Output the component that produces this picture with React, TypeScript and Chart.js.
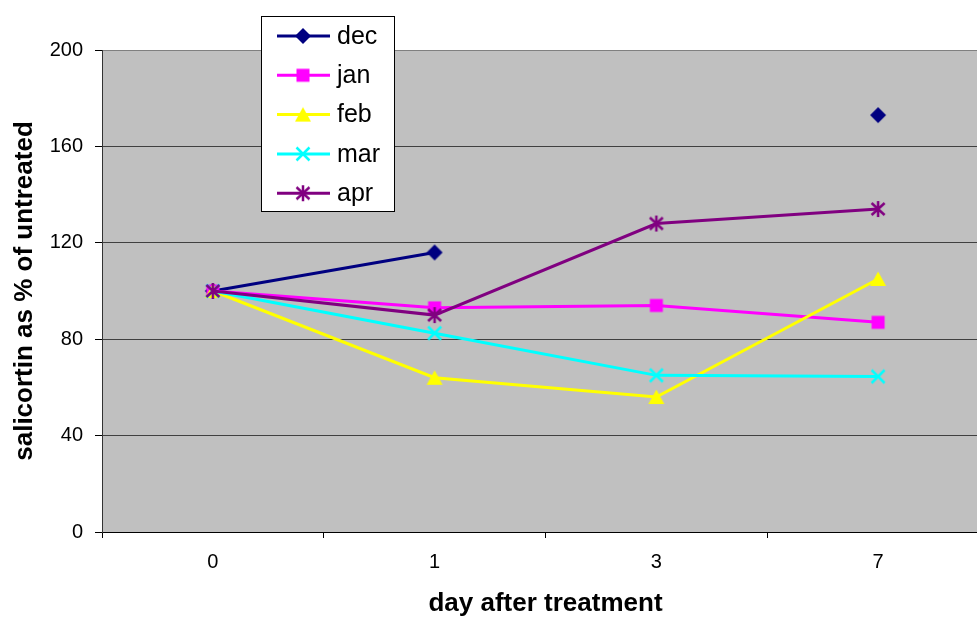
import React, { useEffect, useRef } from 'react';
import { Chart, registerables } from 'chart.js';

Chart.register(...registerables);

const categories = ['0', '1', '3', '7'];
const decValues = [100, 116, null, 173];
const janValues = [100, 93, 94, 87];
const febValues = [100, 64, 56, 105];
const marValues = [100, 82.5, 65, 64.5];
const aprValues = [100, 90, 128, 134];
const seriesNames = ['dec', 'jan', 'feb', 'mar', 'apr'];
const seriesColors = ['#000080', '#FF00FF', '#FFFF00', '#00FFFF', '#800080'];
const yMin = 0;
const yMax = 200;
const yStep = 40;
const xTitle = 'day after treatment';
const yTitle = 'salicortin as % of untreated';

const FONT = 'Arial, "Liberation Sans", sans-serif';

function makeMarker(kind: string, color: string): HTMLCanvasElement {
  const c = document.createElement('canvas');
  const s = 18;
  c.width = s;
  c.height = s;
  const ctx = c.getContext('2d')!;
  const m = s / 2;
  ctx.fillStyle = color;
  ctx.strokeStyle = color;
  if (kind === 'diamond') {
    ctx.beginPath();
    ctx.moveTo(m, m - 8);
    ctx.lineTo(m + 8, m);
    ctx.lineTo(m, m + 8);
    ctx.lineTo(m - 8, m);
    ctx.closePath();
    ctx.fill();
  } else if (kind === 'square') {
    ctx.fillRect(m - 6.5, m - 6.5, 13, 13);
  } else if (kind === 'triangle') {
    ctx.beginPath();
    ctx.moveTo(m, m - 7.5);
    ctx.lineTo(m + 8, m + 7);
    ctx.lineTo(m - 8, m + 7);
    ctx.closePath();
    ctx.fill();
  } else if (kind === 'x') {
    ctx.lineWidth = 2.5;
    ctx.beginPath();
    ctx.moveTo(m - 6.5, m - 6.5);
    ctx.lineTo(m + 6.5, m + 6.5);
    ctx.moveTo(m + 6.5, m - 6.5);
    ctx.lineTo(m - 6.5, m + 6.5);
    ctx.stroke();
  } else if (kind === 'star') {
    ctx.lineWidth = 2.5;
    ctx.beginPath();
    ctx.moveTo(m - 6.5, m - 6);
    ctx.lineTo(m + 6.5, m + 6);
    ctx.moveTo(m + 6.5, m - 6);
    ctx.lineTo(m - 6.5, m + 6);
    ctx.moveTo(m, m - 8);
    ctx.lineTo(m, m + 8);
    ctx.stroke();
  }
  return c;
}

export default function App() {
  const ref = useRef<HTMLCanvasElement | null>(null);

  useEffect(() => {
    const canvas = ref.current;
    if (!canvas) return;
    const kinds = ['diamond', 'square', 'triangle', 'x', 'star'];
    const markers = kinds.map((k, i) => makeMarker(k, seriesColors[i]));
    const allValues = [decValues, janValues, febValues, marValues, aprValues];

    const datasets = allValues.map((vals, i) => ({
      label: seriesNames[i],
      data: vals,
      borderColor: seriesColors[i],
      backgroundColor: seriesColors[i],
      borderWidth: 3,
      pointStyle: markers[i],
      pointRadius: 8,
      pointHoverRadius: 8,
      spanGaps: false,
      tension: 0,
      order: 4 - i,
      clip: false as any,
    }));

    const plotBg = {
      id: 'plotBg',
      beforeDraw(chart: any) {
        const { ctx, chartArea } = chart;
        ctx.save();
        ctx.fillStyle = '#C0C0C0';
        ctx.fillRect(chartArea.left, chartArea.top, chartArea.right - chartArea.left, chartArea.bottom - chartArea.top);
        ctx.restore();
      },
    };

    const customLegend = {
      id: 'customLegend',
      afterDraw(chart: any) {
        const { ctx } = chart;
        ctx.save();
        const bx = 261.5, by = 16.5, bw = 133, bh = 195;
        ctx.fillStyle = '#FFFFFF';
        ctx.fillRect(bx, by, bw, bh);
        ctx.strokeStyle = '#000000';
        ctx.lineWidth = 1;
        ctx.strokeRect(bx, by, bw, bh);
        seriesNames.forEach((name, i) => {
          const y = 36 + i * 39.3;
          ctx.strokeStyle = seriesColors[i];
          ctx.lineWidth = 3;
          ctx.beginPath();
          ctx.moveTo(277, y);
          ctx.lineTo(330, y);
          ctx.stroke();
          const mk = markers[i];
          ctx.drawImage(mk, 303 - mk.width / 2, y - mk.height / 2);
          ctx.fillStyle = '#000000';
          ctx.font = `25px ${FONT}`;
          ctx.textBaseline = 'middle';
          ctx.textAlign = 'left';
          ctx.fillText(name, 337, y + 1);
        });
        ctx.restore();
      },
    };

    const chart = new Chart(canvas, {
      type: 'line',
      data: { labels: categories, datasets: datasets as any },
      options: {
        animation: false,
        responsive: false,
        devicePixelRatio: 1,
        layout: { padding: { top: 50, right: 11, left: 0, bottom: 0 } },
        plugins: {
          legend: { display: false },
          tooltip: { enabled: false },
        },
        scales: {
          x: {
            type: 'category',
            offset: true,
            afterFit: (s: any) => { s.height = 86; },
            grid: {
              offset: true,
              drawOnChartArea: false,
              drawTicks: true,
              tickLength: 6,
              color: '#000000',
              tickColor: '#000000',
            },
            border: { display: true, color: '#000000', width: 1 },
            ticks: {
              color: '#000000',
              font: { family: FONT, size: 20 },
              padding: 12,
              maxRotation: 0,
            },
            title: {
              display: true,
              text: xTitle,
              color: '#000000',
              font: { family: FONT, size: 26, weight: 'bold' },
              padding: { top: 0, bottom: -1 },
            },
          },
          y: {
            min: yMin,
            max: yMax,
            afterFit: (s: any) => { s.width = 102; },
            grid: {
              drawTicks: true,
              tickLength: 7,
              color: (c: any) => (c.tick && (c.tick.value === yMax || c.tick.value === yMin) ? '#808080' : '#404040'),
              tickColor: '#000000',
              lineWidth: 1,
            },
            border: { display: true, color: '#333333', width: 1 },
            ticks: {
              stepSize: yStep,
              color: '#000000',
              font: { family: FONT, size: 20 },
              padding: 12,
            },
            title: {
              display: true,
              text: yTitle,
              color: '#000000',
              font: { family: FONT, size: 26, weight: 'bold' },
              padding: { top: 9, bottom: 0 },
            },
          },
        },
      },
      plugins: [plotBg, customLegend],
    });

    return () => chart.destroy();
  }, []);

  return (
    <div style={{ position: 'fixed', left: 0, top: 0, width: 977, height: 618, overflow: 'hidden', background: '#FFFFFF' }}>
      <canvas ref={ref} width={1000} height={618} style={{ position: 'absolute', left: 0, top: 0, display: 'block', width: 1000, height: 618 }} />
    </div>
  );
}
